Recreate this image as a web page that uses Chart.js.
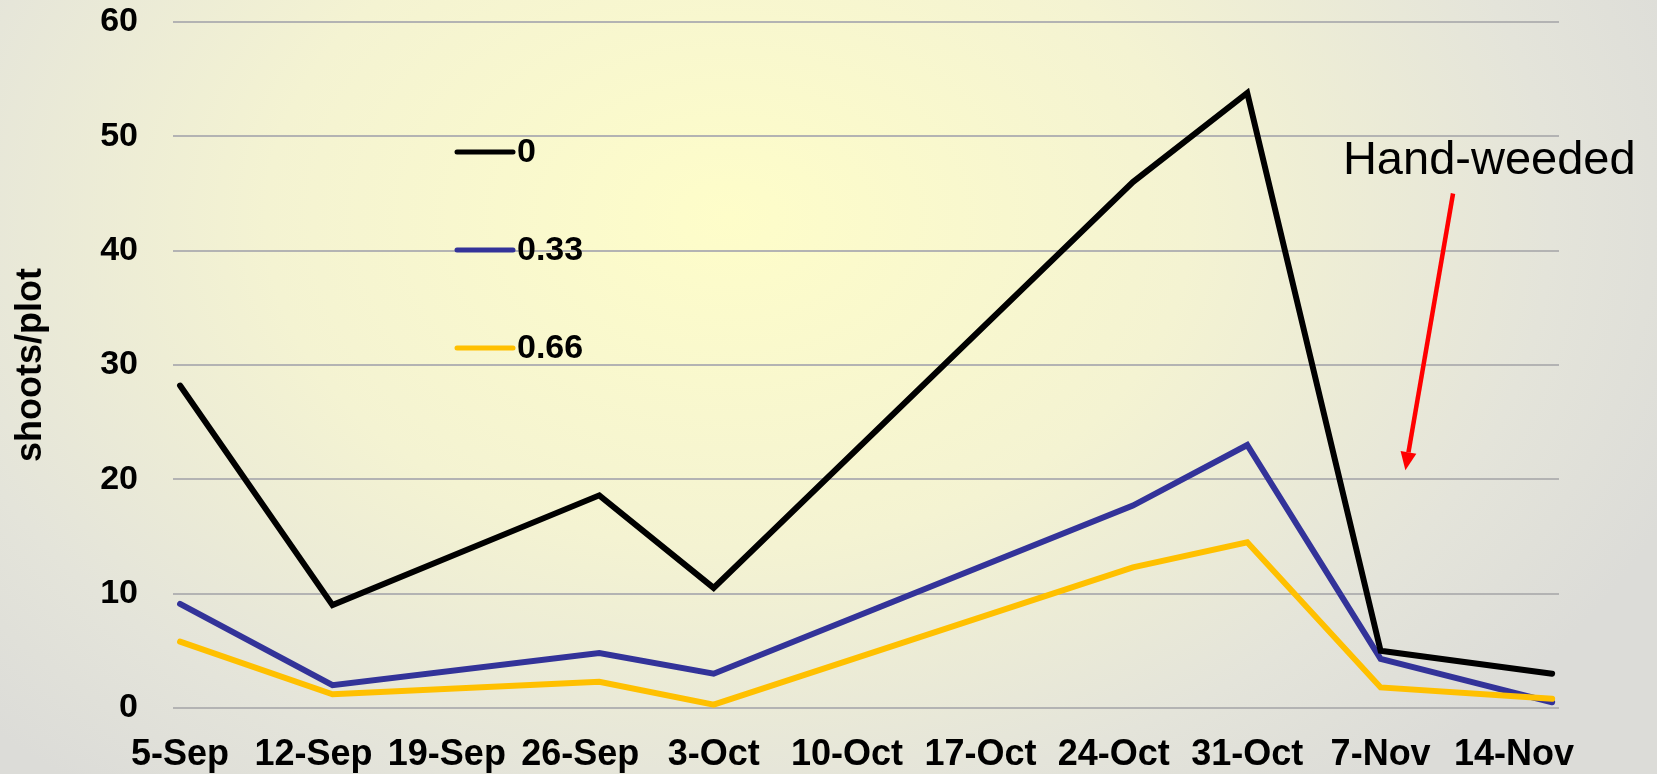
<!DOCTYPE html>
<html>
<head>
<meta charset="utf-8">
<script src="https://cdn.jsdelivr.net/npm/chart.js@4.4.1/dist/chart.umd.min.js"></script>
<style>
  html, body { margin: 0; padding: 0; }
  body {
    width: 1657px;
    height: 774px;
    overflow: hidden;
    background: radial-gradient(ellipse 62% 95% at 44% 28%, #fefdc9 0%, #f4f3d2 45%, #e4e4da 80%, #dcdcd8 100%);
  }
  canvas { display: block; }
</style>
</head>
<body>
<canvas id="myChart" width="1657" height="774"></canvas>
<script>
'use strict';

// Etiquetas del eje X (una cada 7 días desde el 5-Sep)
const tickLabels = ['5-Sep', '12-Sep', '19-Sep', '26-Sep', '3-Oct', '10-Oct', '17-Oct', '24-Oct', '31-Oct', '7-Nov', '14-Nov'];

// Días de muestreo (días después del 5-Sep)
const sampleDay = [0, 8, 22, 28, 50, 56, 63, 72];

// Series: brotes por parcela
const seriesNames = ['0', '0.33', '0.66'];
const rate0 = [28.2, 9.0, 18.6, 10.5, 46.0, 53.8, 5.0, 3.0];
const rate033 = [9.1, 2.0, 4.8, 3.0, 17.7, 23.0, 4.3, 0.5];
const rate066 = [5.8, 1.2, 2.3, 0.3, 12.3, 14.5, 1.8, 0.8];

const yTicks = [0, 10, 20, 30, 40, 50, 60];

const colors = ['#000000', '#333399', '#ffc000'];
const FONT = "'Liberation Sans', Arial, sans-serif";

function toPoints(values) {
    return values.map((v, i) => ({ x: sampleDay[i], y: v }));
}

// Leyenda dibujada dentro del área del gráfico
const legendBox = { x: 457, y: 152, lineLen: 56, gap: 4, rowHeight: 98 };

const insideLegend = {
    id: 'insideLegend',
    afterDatasetsDraw(chart) {
        const ctx = chart.ctx;
        ctx.save();
        chart.data.datasets.forEach(function (ds, i) {
            const y = legendBox.y + i * legendBox.rowHeight;
            ctx.strokeStyle = ds.borderColor;
            ctx.lineWidth = 5;
            ctx.lineCap = 'round';
            ctx.beginPath();
            ctx.moveTo(legendBox.x, y);
            ctx.lineTo(legendBox.x + legendBox.lineLen, y);
            ctx.stroke();
            ctx.fillStyle = '#000';
            ctx.font = 'bold 34px ' + FONT;
            ctx.textAlign = 'left';
            ctx.textBaseline = 'middle';
            ctx.fillText(ds.label, legendBox.x + legendBox.lineLen + legendBox.gap, y + 1);
        });
        ctx.restore();
    }
};

// Anotación "Hand-weeded" con flecha roja (en unidades de datos)
const handWeeded = {
    text: 'Hand-weeded',
    textAt: [68.7, 46.7],
    arrowFrom: [66.8, 45.0],
    arrowTo: [64.3, 20.8]
};

const annotation = {
    id: 'annotation',
    afterDatasetsDraw(chart) {
        const ctx = chart.ctx;
        const xs = chart.scales.x;
        const ys = chart.scales.y;
        ctx.save();
        ctx.fillStyle = '#000';
        ctx.font = '47px ' + FONT;
        ctx.textAlign = 'center';
        ctx.textBaseline = 'alphabetic';
        ctx.fillText(handWeeded.text, xs.getPixelForValue(handWeeded.textAt[0]), ys.getPixelForValue(handWeeded.textAt[1]));

        const x1 = xs.getPixelForValue(handWeeded.arrowFrom[0]);
        const y1 = ys.getPixelForValue(handWeeded.arrowFrom[1]);
        const x2 = xs.getPixelForValue(handWeeded.arrowTo[0]);
        const y2 = ys.getPixelForValue(handWeeded.arrowTo[1]);
        const ang = Math.atan2(y2 - y1, x2 - x1);
        const headLen = 18;
        const headW = 8;
        const bx = x2 - headLen * Math.cos(ang);
        const by = y2 - headLen * Math.sin(ang);
        ctx.strokeStyle = '#ff0000';
        ctx.fillStyle = '#ff0000';
        ctx.lineWidth = 4.5;
        ctx.beginPath();
        ctx.moveTo(x1, y1);
        ctx.lineTo(bx, by);
        ctx.stroke();
        ctx.beginPath();
        ctx.moveTo(x2, y2);
        ctx.lineTo(bx + headW * Math.sin(ang), by - headW * Math.cos(ang));
        ctx.lineTo(bx - headW * Math.sin(ang), by + headW * Math.cos(ang));
        ctx.closePath();
        ctx.fill();
        ctx.restore();
    }
};

const ctx = document.getElementById('myChart').getContext('2d');

new Chart(ctx, {
    type: 'line',
    data: {
        datasets: [
            { label: seriesNames[0], data: toPoints(rate0), borderColor: colors[0], order: 0 },
            { label: seriesNames[1], data: toPoints(rate033), borderColor: colors[1], order: 2 },
            { label: seriesNames[2], data: toPoints(rate066), borderColor: colors[2], order: 1 }
        ]
    },
    options: {
        responsive: false,
        animation: false,
        layout: { padding: { left: 9, right: 98, top: 22, bottom: 0 } },
        elements: {
            point: { radius: 0, hoverRadius: 0 },
            line: { borderWidth: 6, tension: 0, borderJoinStyle: 'miter', borderCapStyle: 'round', fill: false }
        },
        datasets: { line: { clip: false } },
        plugins: {
            legend: { display: false },
            tooltip: { enabled: false }
        },
        scales: {
            x: {
                type: 'linear',
                bounds: 'data',
                min: -0.37,
                max: 72.36,
                grid: { display: false, drawTicks: false },
                border: { display: false },
                afterBuildTicks: function (scale) {
                    scale.ticks = tickLabels.map((_, i) => ({ value: i * 7 }));
                },
                afterFit: function (scale) {
                    scale.height = 66;
                },
                ticks: {
                    autoSkip: false,
                    maxRotation: 0,
                    padding: 25,
                    color: '#000',
                    font: { family: FONT, size: 36, weight: 'bold' },
                    callback: (v) => tickLabels[Math.round(v / 7)]
                }
            },
            y: {
                min: 0,
                max: 60,
                afterBuildTicks: function (scale) {
                    scale.ticks = yTicks.map(v => ({ value: v }));
                },
                afterFit: function (scale) {
                    scale.width = 164;
                    scale.paddingTop = 0;
                    scale.paddingBottom = 0;
                },
                grid: { color: '#b3b3b3', lineWidth: 2, drawTicks: false },
                border: { display: false },
                ticks: {
                    padding: 35,
                    color: '#000',
                    font: { family: FONT, size: 34, weight: 'bold' }
                },
                title: {
                    display: true,
                    text: 'shoots/plot',
                    color: '#000',
                    padding: { top: 0, bottom: 0 },
                    font: { family: FONT, size: 36, weight: 'bold' }
                }
            }
        }
    },
    plugins: [insideLegend, annotation]
});
</script>
</body>
</html>
